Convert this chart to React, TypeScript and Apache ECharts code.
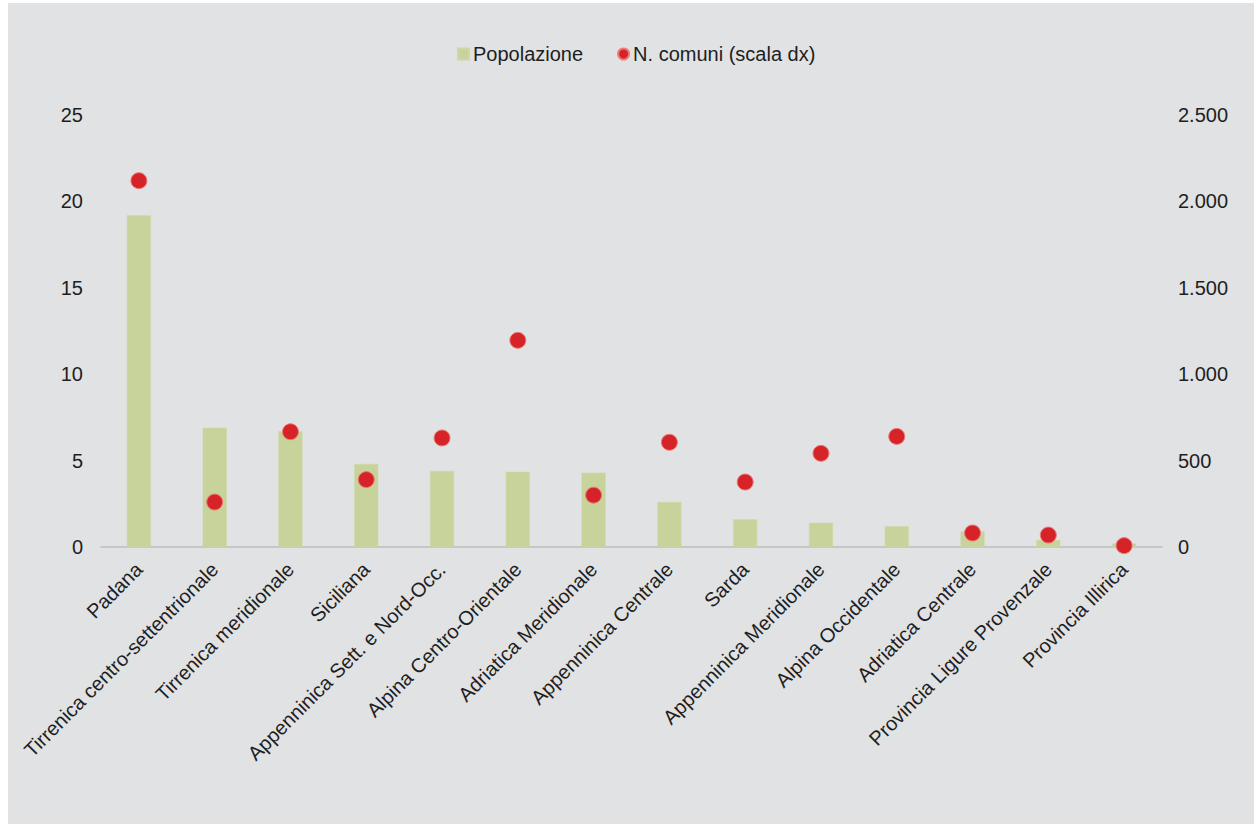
import React, { useEffect, useRef } from "react";
import * as echarts from "echarts";

const categories = [
  "Padana",
  "Tirrenica centro-settentrionale",
  "Tirrenica meridionale",
  "Siciliana",
  "Appenninica Sett. e Nord-Occ.",
  "Alpina Centro-Orientale",
  "Adriatica Meridionale",
  "Appenninica Centrale",
  "Sarda",
  "Appenninica Meridionale",
  "Alpina Occidentale",
  "Adriatica Centrale",
  "Provincia Ligure Provenzale",
  "Provincia Illirica",
];
const popolazione = [19.2, 6.9, 6.7, 4.8, 4.4, 4.35, 4.3, 2.6, 1.6, 1.4, 1.2, 0.9, 0.4, 0.2];
const comuni = [2120, 260, 667, 390, 631, 1196, 300, 606, 376, 542, 640, 81, 69, 8];

const FONT = "'Liberation Sans', Arial, sans-serif";
const TEXT = "#1e1e1e";

const fmtThousands = (v: number) => String(Math.round(v)).replace(/\B(?=(\d{3})+(?!\d))/g, ".");

export default function App() {
  const ref = useRef<HTMLDivElement>(null);
  useEffect(() => {
    if (!ref.current) return;
    const chart = echarts.init(ref.current, null, { renderer: "svg" });
    chart.setOption({
      animation: false,
      backgroundColor: "#e1e2e4",
      textStyle: { fontFamily: FONT },
      legend: {
        left: 444,
        top: 36,
        itemWidth: 11,
        itemHeight: 11,
        itemGap: 34,
        textStyle: { fontFamily: FONT, fontSize: 20, color: TEXT, padding: [0, 0, 0, -1] },
        data: [
          { name: "Popolazione", icon: "rect" },
          { name: "N. comuni (scala dx)", icon: "circle" },
        ],
      },
      grid: { left: 93, right: 92, top: 112, bottom: 277, containLabel: false },
      xAxis: {
        type: "category",
        data: categories,
        axisLine: { show: true, lineStyle: { color: "#bdbdbd", width: 1.5 } },
        axisTick: { show: false },
        axisLabel: {
          rotate: 45,
          interval: 0,
          margin: 19,
          fontFamily: FONT,
          fontSize: 20,
          color: TEXT,
        },
      },
      yAxis: [
        {
          type: "value",
          min: 0,
          max: 25,
          interval: 5,
          splitLine: { show: false },
          axisLine: { show: false },
          axisTick: { show: false },
          axisLabel: { margin: 18, fontFamily: FONT, fontSize: 20, color: TEXT },
        },
        {
          type: "value",
          min: 0,
          max: 2500,
          interval: 500,
          position: "right",
          splitLine: { show: false },
          axisLine: { show: false },
          axisTick: { show: false },
          axisLabel: {
            margin: 16,
            fontFamily: FONT,
            fontSize: 20,
            color: TEXT,
            formatter: (v: number) => fmtThousands(v),
          },
        },
      ],
      series: [
        {
          name: "Popolazione",
          type: "bar",
          data: popolazione,
          barWidth: 24,
          yAxisIndex: 0,
          itemStyle: { color: "#c8d39b", borderColor: "#cdd8a3", borderWidth: 0.5 },
        },
        {
          name: "N. comuni (scala dx)",
          type: "scatter",
          data: comuni,
          yAxisIndex: 1,
          symbol: "circle",
          symbolSize: 16,
          itemStyle: { color: "#d62328", borderColor: "#ec7a7a", borderWidth: 1, opacity: 1 },
          z: 3,
        },
      ],
    });
    return () => chart.dispose();
  }, []);
  return (
    <div
      ref={ref}
      style={{ position: "absolute", left: 8, top: 3, width: 1246, height: 821 }}
    />
  );
}
